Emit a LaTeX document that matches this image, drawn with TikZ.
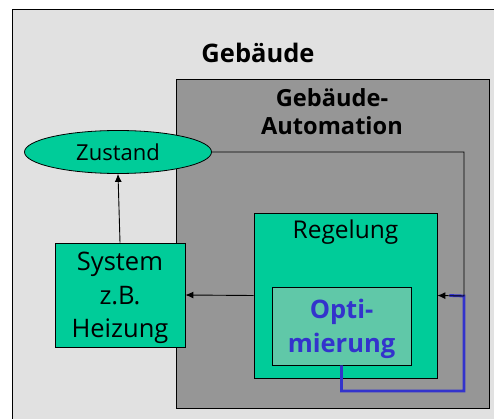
\documentclass[tikz,border=0pt]{standalone}
\usepackage{fontspec}
\setmainfont{Open Sans}
\usetikzlibrary{shapes.geometric,arrows.meta}

\definecolor{hellgrau}{HTML}{E1E1E1}
\definecolor{dunkelgrau}{HTML}{969696}
\definecolor{gruen}{HTML}{00CC99}
\definecolor{hellgruen}{HTML}{60C8A8}
\definecolor{blau}{HTML}{3333CC}

\tikzset{
    kasten/.style={draw, line width=0.8pt, fill=gruen, inner sep=0pt},
    pfeil/.style={-{Latex[length=8pt,width=7pt]}, line width=0.9pt},
    titel/.style={font=\bfseries\fontsize{23.6}{28}\selectfont, align=center},
}

\begin{document}
\begin{tikzpicture}[x=1pt,y=-1pt]
    \useasboundingbox (0,0) rectangle (494,419);
    \fill [white](0,0) rectangle (494,419);

    % Gebaeude und Gebaeude-Automation
    \draw [line width=0.8pt, fill=hellgrau](12,9) rectangle (500,425);
    \draw [line width=0.8pt, fill=dunkelgrau](176,79) rectangle (489,408);
    \node [titel, font=\bfseries\fontsize{25.5}{28}\selectfont, anchor=base] (gebaeude) at (258,63) {Gebäude};
    \node [titel] (automation) at (332,112) {Gebäude-\\Automation};

    \node [kasten, ellipse, minimum width=187pt, minimum height=43pt, font=\fontsize{22}{25}\selectfont] (zustand) at (118,152) {Zustand};
    \node [kasten, minimum width=130pt, minimum height=104pt] (system) at (120,295) {};
    \node [align=center, font=\fontsize{25.5}{33.5}\selectfont] (systemtext) at (120,298) {System\\z.B.\\Heizung};
    \node [kasten, minimum width=183pt, minimum height=165pt] (regelung) at (345.5,295.5) {};
    \node [font=\fontsize{24.5}{28}\selectfont] (regeltext) at (345.5,232) {Regelung};
    \node [kasten, fill=hellgruen, minimum width=139pt, minimum height=78pt] (opti) at (341.5,326) {};
    \node [align=center, text=blau, font=\bfseries\fontsize{25.5}{34}\selectfont] (optitext) at (341.5,329) {Opti-\\mierung};

    \coordinate (ecke) at (464,296);
    \coordinate (unten) at (464,391);

    \draw [pfeil](system.north) -- (zustand.south);
    \draw [pfeil](regelung.west) -- (system.east);
    \draw [blau, line width=2.8pt](opti.south) |- (unten) -- (ecke) -- ([xshift=12pt]regelung.east);
    \draw [pfeil](zustand.east) -| (ecke) -- (regelung.east);
\end{tikzpicture}
\end{document}
